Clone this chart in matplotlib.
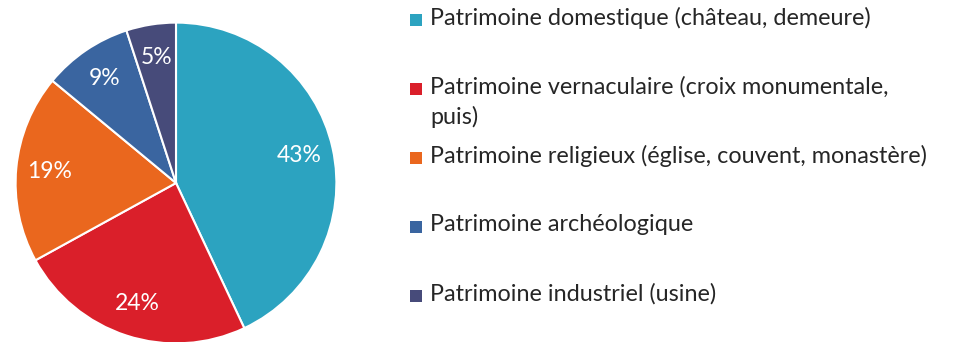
import matplotlib
matplotlib.use("Agg")
import matplotlib.pyplot as plt
from matplotlib.patches import Rectangle

categories = [
    "Patrimoine domestique (château, demeure)",
    "Patrimoine vernaculaire (croix monumentale,\npuis)",
    "Patrimoine religieux (église, couvent, monastère)",
    "Patrimoine archéologique",
    "Patrimoine industriel (usine)",
]
values = [43, 24, 19, 9, 5]
colors = ["#2CA3C0", "#DA1F2A", "#EA671E", "#3A65A0", "#474B7A"]

plt.rcParams['font.family'] = ['Lato', 'DejaVu Sans']

W, H = 958, 342
fig = plt.figure(figsize=(W / 100, H / 100), dpi=100)

cx, cy, r = 176, 183, 162
ax = fig.add_axes([(cx - r) / W, (H - cy - r) / H, 2 * r / W, 2 * r / H])
wedges, texts, autotexts = ax.pie(
    values, colors=colors, startangle=90, counterclock=False,
    autopct=lambda p: f"{p:.0f}%", pctdistance=0.79,
    wedgeprops=dict(edgecolor="white", linewidth=1.5),
    textprops=dict(color="white", fontsize=16.5),
)
ax.set_xlim(-1.01, 1.01)
ax.set_ylim(-1.01, 1.01)
ax.set_aspect("equal")
ax.axis("off")

# legend
ys = [20, 89, 158, 227, 296]
for lab, col, y in zip(categories, colors, ys):
    fig.patches.append(Rectangle((410 / W, (H - y - 6) / H), 12 / W, 12 / H,
                                 transform=fig.transFigure, facecolor=col,
                                 edgecolor="none"))
    fig.text(430 / W, (H - y + 13) / H, lab, fontsize=16.8, color="#262626",
             va="top", ha="left", linespacing=1.46)

fig.savefig("out.png", dpi=100, facecolor="white")
